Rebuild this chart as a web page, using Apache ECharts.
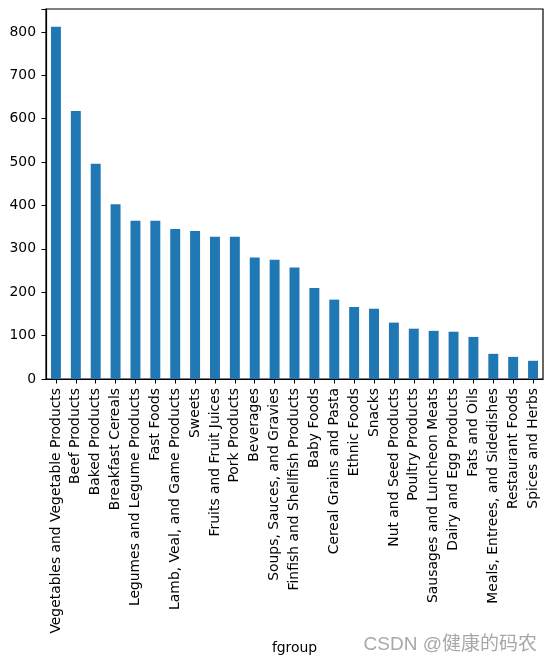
<!DOCTYPE html>
<html>
<head>
<meta charset="utf-8">
<script src="https://cdn.jsdelivr.net/npm/echarts@6/dist/echarts.min.js"></script>
<style>
html,body{margin:0;padding:0;background:#fff;overflow:hidden;}
#c{width:552px;height:664px;}
</style>
</head>
<body>
<div id="c"></div>
<script>
const categories = [
  "Vegetables and Vegetable Products","Beef Products","Baked Products","Breakfast Cereals",
  "Legumes and Legume Products","Fast Foods","Lamb, Veal, and Game Products","Sweets",
  "Fruits and Fruit Juices","Pork Products","Beverages","Soups, Sauces, and Gravies",
  "Finfish and Shellfish Products","Baby Foods","Cereal Grains and Pasta","Ethnic Foods",
  "Snacks","Nut and Seed Products","Poultry Products","Sausages and Luncheon Meats",
  "Dairy and Egg Products","Fats and Oils","Meals, Entrees, and Sidedishes","Restaurant Foods",
  "Spices and Herbs"
];
const counts = [812, 618, 496, 403, 365, 365, 346, 341, 328, 328, 280, 275, 257, 210, 183, 166, 162, 130, 116, 111, 109, 97, 58, 51, 42];
const yTicks = [0, 100, 200, 300, 400, 500, 600, 700, 800];
const xLabel = "fgroup";
const watermark = "CSDN @健康的码农";

const FONT = "DejaVu Sans";
const chart = echarts.init(document.getElementById('c'), null, {renderer:'canvas'});
chart.setOption({
  backgroundColor: '#ffffff',
  animation: false,
  grid: {left: 46, right: 9, top: 9, bottom: 285, show: true, borderColor: '#000', borderWidth: 1.2, backgroundColor: 'transparent'},
  xAxis: {
    type: 'category',
    data: categories,
    boundaryGap: true,
    name: xLabel,
    nameLocation: 'middle',
    nameGap: 262,
    nameTextStyle: {fontFamily: FONT, fontSize: 13.9, color: '#000'},
    axisLine: {show: true, lineStyle: {color: '#000', width: 1.2}},
    axisTick: {show: true, alignWithLabel: true, length: 4.5, lineStyle: {color: '#000'}},
    axisLabel: {rotate: 90, interval: 0, margin: 9, fontFamily: FONT, fontSize: 13.9, color: '#000'},
    splitLine: {show: false}
  },
  yAxis: {
    type: 'value',
    min: yTicks[0],
    max: 853,
    interval: 100,
    axisLine: {show: true, lineStyle: {color: '#000', width: 1.2}},
    axisTick: {show: true, length: 4.5, lineStyle: {color: '#000'}},
    axisLabel: {margin: 10, fontFamily: FONT, fontSize: 13.9, color: '#000',
      formatter: v => yTicks.includes(v) ? String(v) : ''},
    splitLine: {show: false}
  },
  series: [{
    type: 'bar',
    data: counts,
    barWidth: '50%',
    itemStyle: {color: '#1f77b4'}
  }],
  graphic: [{
    type: 'text',
    right: 15,
    top: 635,
    style: {text: watermark, font: '19px "Liberation Sans", "Noto Sans CJK SC", sans-serif', fill: '#a8a8a8'}
  }]
});
</script>
</body>
</html>
